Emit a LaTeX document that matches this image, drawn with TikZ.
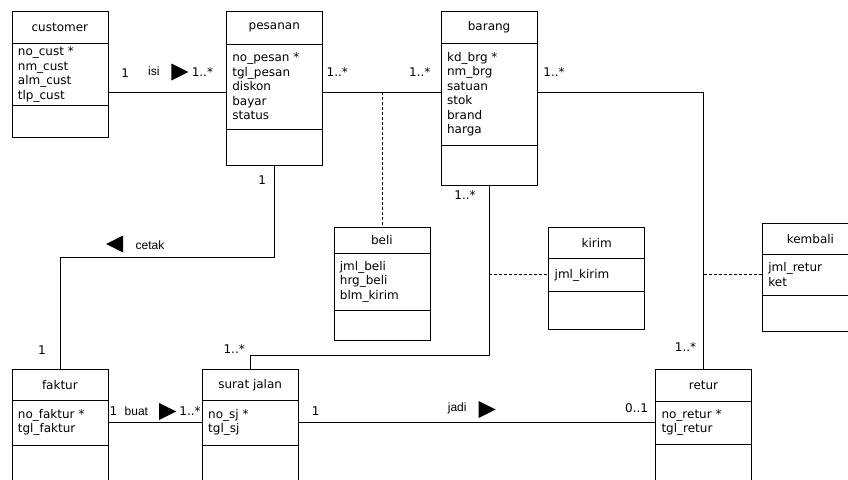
\documentclass[tikz,border=0pt]{standalone}
\usepackage{fontspec}
\setmainfont{DejaVu Sans}
\newfontfamily\labelfont{Liberation Sans}
\usepackage{tikz}
\usetikzlibrary{shapes,positioning}
\newcommand{\ctitle}[2]{\parbox[c][#1pt][c]{84pt}{\centering #2}}
\newcommand{\cattr}[2]{\parbox[c][#1pt][c]{84pt}{\raggedright #2}}
\newcommand{\cop}[1]{\parbox[c][#1pt]{84pt}{\mbox{}}}
\tikzset{
classbox/.style = {draw, fill=white, rectangle split, rectangle split parts=3, inner xsep=6pt, inner ysep=0pt, line width=0.8pt, font=\fontsize{12}{14.5}\selectfont},
tmp/.style      = {coordinate},
mult/.style     = {inner sep=0pt, font=\fontsize{12}{14}\selectfont},
rolename/.style = {inner sep=0pt, font=\labelfont\fontsize{12}{14}\selectfont},
dirtri/.style   = {isosceles triangle, isosceles triangle stretches, fill=black, inner sep=0pt, minimum width=17pt, minimum height=17pt},
link/.style     = {line width=0.8pt},
assoc/.style    = {line width=0.6pt, densely dashed}
}

\begin{document}
\begin{tikzpicture}[x=1pt, y=-1pt, node distance=118pt]
  \useasboundingbox (0,0) rectangle (848,479);

  \node [classbox, anchor=north west]                                    (customer)   at (11.5,11)
    {\ctitle{31.5}{customer}\nodepart{two}\cattr{61}{no\_cust *\\nm\_cust\\alm\_cust\\tlp\_cust}\nodepart{three}\cop{31.5}};
  \node [classbox, right=117.6pt of customer.north east, anchor=north west] (pesanan)
    {\ctitle{32}{pesanan}\nodepart{two}\cattr{84}{no\_pesan *\\tgl\_pesan\\diskon\\bayar\\status}\nodepart{three}\cop{36}};
  \node [classbox, right=of pesanan.north east, anchor=north west]        (barang)
    {\ctitle{31}{barang}\nodepart{two}\cattr{101}{kd\_brg *\\nm\_brg\\satuan\\stok\\brand\\harga}\nodepart{three}\cop{40}};
  \node [classbox, anchor=north west]                                    (beli)       at (333.5,227)
    {\ctitle{25}{beli}\nodepart{two}\cattr{56}{jml\_beli\\hrg\_beli\\blm\_kirim}\nodepart{three}\cop{30}};
  \node [classbox, right=of beli.north east, anchor=north west]          (kirim)
    {\ctitle{30.5}{kirim}\nodepart{two}\cattr{32}{jml\_kirim}\nodepart{three}\cop{37}};
  \node [classbox, anchor=north west]                                    (kembali)    at (762,223)
    {\ctitle{30}{kembali}\nodepart{two}\cattr{40}{jml\_retur\\ket}\nodepart{three}\cop{36}};
  \node [classbox, anchor=north west]                                    (faktur)     at (11.5,369)
    {\ctitle{30}{faktur}\nodepart{two}\cattr{44}{no\_faktur *\\tgl\_faktur}\nodepart{three}\cop{40}};
  \node [classbox, right=93.5pt of faktur.north east, anchor=north west]  (suratjalan)
    {\ctitle{30}{surat jalan}\nodepart{two}\cattr{44}{no\_sj *\\tgl\_sj}\nodepart{three}\cop{40}};
  \node [classbox, right=356.5pt of suratjalan.north east, anchor=north west] (retur)
    {\ctitle{31}{retur}\nodepart{two}\cattr{42}{no\_retur *\\tgl\_retur}\nodepart{three}\cop{40}};

  \node [tmp] (toprow)    at (0,92)    {};
  \node [tmp] (cetakbend) at (0,257.5) {};
  \node [tmp] (assocrow)  at (0,274.5) {};
  \node [tmp] (kirimbend) at (0,355)   {};
  \node [tmp] (botrow)    at (0,422)   {};

  \draw [link] (customer.east |- toprow) -- node[mult, pos=.143, yshift=19pt] {1} node[rolename, pos=.387, yshift=21pt] {isi}
    node[dirtri, pos=.58, yshift=20pt] {} node[mult, pos=.80, yshift=20pt] {1..*} (pesanan.west |- toprow);
  \draw [link] (pesanan.east |- toprow) -- node[mult, pos=.124, yshift=20pt] {1..*} node[mult, pos=.823, yshift=20pt] {1..*} (barang.west |- toprow);
  \draw [link] (barang.east |- toprow) -- node[mult, pos=.10, yshift=20pt] {1..*} (retur.north |- toprow)
    -- node[mult, pos=.92, xshift=-18pt] {1..*} (retur.north);
  \draw [link] (pesanan.south) -- node[mult, pos=.148, xshift=-12pt] {1} (pesanan.south |- cetakbend)
    -- node[rolename, pos=.58, yshift=12.5pt] {cetak} node[dirtri, shape border rotate=180, pos=.73, yshift=13.5pt] {} (faktur.north |- cetakbend)
    -- node[mult, pos=.83, xshift=-18pt] {1} (faktur.north);
  \draw [link] (barang.south) -- node[mult, pos=.052, xshift=-24pt] {1..*} (barang.south |- kirimbend)
    -- node[mult, pos=1, xshift=-16pt, yshift=6pt] {1..*} (suratjalan.north |- kirimbend) -- (suratjalan.north);
  \draw [link] (faktur.east |- botrow) -- node[mult, pos=.056, yshift=11pt] {1} node[rolename, pos=.30, yshift=11pt] {buat}
    node[dirtri, pos=.60, yshift=10.5pt] {} node[mult, pos=.875, yshift=11pt] {1..*} (suratjalan.west |- botrow);
  \draw [link] (suratjalan.east |- botrow) -- node[mult, pos=.048, yshift=11pt] {1} node[rolename, pos=.445, yshift=13.5pt] {jadi}
    node[dirtri, pos=.52, yshift=12.5pt] {} node[mult, pos=.948, yshift=14pt] {0..1} (retur.west |- botrow);

  \draw [assoc] (beli.north |- toprow) -- (beli.north);
  \draw [assoc] (barang.south |- assocrow) -- (kirim.west |- assocrow);
  \draw [assoc] (retur.north |- assocrow) -- (kembali.west |- assocrow);
\end{tikzpicture}
\end{document}
